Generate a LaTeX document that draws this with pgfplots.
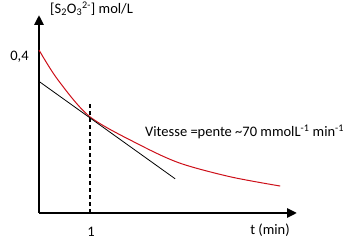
\documentclass[border=0pt]{standalone}
\usepackage{fontspec}
\setmainfont{Carlito}
\usepackage{pgfplots}
\pgfplotsset{compat=1.18}
\usetikzlibrary{arrows.meta}
\definecolor{curvered}{RGB}{205,15,25}
\begin{document}
\fontsize{14.5pt}{17pt}\selectfont
\begin{tikzpicture}[x=1pt,y=1pt]
\useasboundingbox (0,0) rectangle (353,240);
\begin{axis}[
  at={(39pt,27pt)}, anchor=south west,
  scale only axis, width=258pt, height=198pt,
  xmin=0, xmax=5.06, ymin=0, ymax=0.492,
  axis lines=left,
  axis line style={line width=2.6pt, -{Triangle[length=10pt,width=9pt]}},
  xtick=\empty, ytick=\empty,
  clip=false,
]
\addplot[curvered, line width=1pt, smooth] coordinates {
  (0,0.405) (0.37,0.331) (1,0.239) (1.98,0.169) (2.76,0.124) (3.75,0.090) (4.73,0.067)
};
\addplot[black, line width=0.8pt] coordinates {(0,0.327) (2.67,0.085)};
\addplot[black, line width=2.4pt, dash pattern=on 4pt off 3pt] coordinates {(1,0) (1,0.276)};
\end{axis}
\node[anchor=west, inner sep=0] at (50,231) {[S\textsubscript{2}O\textsubscript{3}\textsuperscript{2-}] mol/L};
\node[anchor=center, inner sep=0] at (19.5,183) {0,4};
\node[anchor=center, inner sep=0] at (91,8.5) {1};
\node[anchor=center, inner sep=0] at (270,10) {t (min)};
\node[anchor=west, inner sep=0] at (145,108) {Vitesse =pente \textasciitilde70 mmolL\textsuperscript{-1} min\textsuperscript{-1}};
\end{tikzpicture}
\end{document}
